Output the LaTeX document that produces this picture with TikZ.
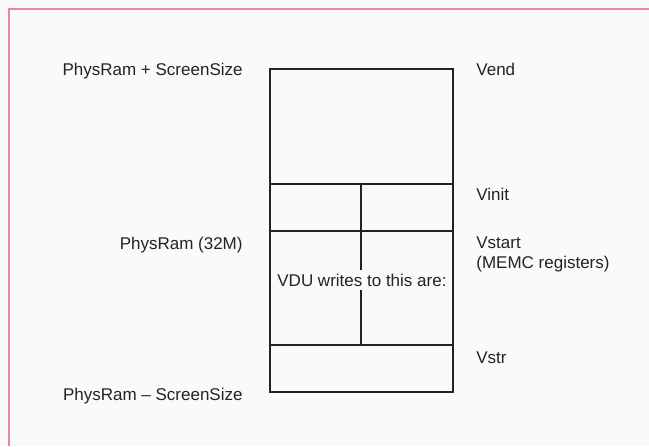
\documentclass[tikz,border=0pt]{standalone}
\usepackage{fontspec}
\setmainfont{Liberation Sans}
\usepackage{xcolor}
\usepackage{tikz}
\usetikzlibrary{positioning}

\definecolor{pagebg}{RGB}{250,250,248}
\definecolor{edgepink}{RGB}{230,135,168}
\definecolor{ink}{RGB}{35,35,35}

\begin{document}
\begin{tikzpicture}[
  x=0.5pt, y=-0.5pt,
  addr/.style={anchor=base east, inner sep=0pt, text=ink, font=\fontsize{8.5}{10}\selectfont},
  reg/.style={anchor=base west, inner sep=0pt, text=ink, font=\fontsize{8.5}{10}\selectfont},
  wall/.style={draw=ink, line width=0.8pt}
]

% page
\fill[pagebg] (0,0) rectangle (649,446);
\useasboundingbox (0,0) rectangle (649,446);
\draw[edgepink, line width=1.1pt] (9,446) -- (9,9) -- (649,9);

% Memory map
\coordinate (memtop) at (270,69);
\coordinate (membot) at (453,392);
\coordinate (vinitL) at (270,184);
\coordinate (vinitR) at (453,184);
\coordinate (vstartL) at (270,231);
\coordinate (vstartR) at (453,231);
\coordinate (vstrL) at (270,345);
\coordinate (vstrR) at (453,345);
\coordinate (splittop) at (361,184);
\coordinate (splitbot) at (361,345);

\draw[wall] (memtop) rectangle (membot);
\draw[wall] (vinitL) -- (vinitR);
\draw[wall] (vstartL) -- (vstartR);
\draw[wall] (vstrL) -- (vstrR);

\node (vdu) [reg, inner ysep=1.5pt] at (277,286) {VDU writes to this are:};
\draw[wall] (splittop) -- (splittop |- vdu.north);
\draw[wall] (splitbot |- vdu.south) -- (splitbot);

% Address labels
\node (topaddr) [addr] at (243,75) {PhysRam + ScreenSize};
\node (physram) [addr] at (243,249) {PhysRam (32M)};
\node (botaddr) [addr] at (243,400) {PhysRam -- ScreenSize};

% Register labels
\node (vend) [reg] at (476,75) {Vend};
\node (vinit) [reg] at (476,200) {Vinit};
\node (vstart) [reg] at (476,248) {Vstart};
\node (memc) [reg] at (476,268) {(MEMC registers)};
\node (vstr) [reg] at (476,363) {Vstr};
\end{tikzpicture}
\end{document}
